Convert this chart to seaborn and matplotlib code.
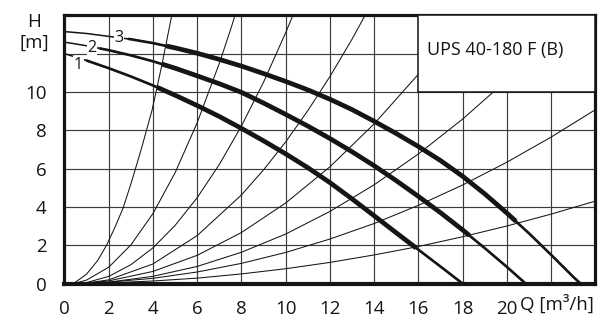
import numpy as np
import pandas as pd
import matplotlib
matplotlib.use("Agg")
import matplotlib.pyplot as plt
from matplotlib.patches import Rectangle
import seaborn as sns

# ---- pump characteristics (flow Q in m3/h, head H in m) for the three speeds
speed1_q = [0, 1, 2, 3, 4, 5, 6, 7, 8, 9, 10, 11, 12, 13, 14, 15, 16, 17, 18]
speed1_h = [12.0, 11.64, 11.24, 10.81, 10.34, 9.83, 9.29, 8.72, 8.10, 7.45,
            6.77, 6.05, 5.27, 4.42, 3.54, 2.65, 1.77, 0.89, 0.0]

speed2_q = [0, 1, 2, 3, 4, 5, 6, 7, 8, 9, 10, 11, 12, 13, 14, 15, 16, 17, 18,
            19, 20, 20.85]
speed2_h = [12.6, 12.41, 12.18, 11.91, 11.6, 11.24, 10.84, 10.43, 9.98, 9.42,
            8.83, 8.22, 7.57, 6.88, 6.15, 5.37, 4.55, 3.70, 2.80, 1.85, 0.87, 0.0]

speed3_q = [0, 1, 2, 3, 4, 5, 6, 7, 8, 9, 10, 11, 12, 13, 14, 15, 16, 17, 18,
            19, 20, 21, 22, 23, 23.33]
speed3_h = [13.15, 13.05, 12.9, 12.75, 12.55, 12.3, 12.02, 11.7, 11.35, 10.96,
            10.55, 10.11, 9.62, 9.08, 8.47, 7.83, 7.15, 6.42, 5.6, 4.68, 3.68,
            2.62, 1.5, 0.35, 0.0]

speed_labels = ["1", "2", "3"]

# ---- system (pipe) characteristics
sys_a_q = [0.4, 1.0, 1.5, 1.9, 2.3, 2.65, 3.0, 3.45, 3.96, 4.4, 4.85, 5.0]
sys_a_h = [0.0, 0.5, 1.21, 2.0, 2.99, 3.95, 5.2, 6.93, 9.06, 11.4, 14.0, 14.83]
sys_b_q = [0.4, 1, 2, 3, 4, 5, 6, 7, 7.5, 8]
sys_b_h = [0.0, 0.19, 0.86, 2.02, 3.66, 5.79, 8.4, 11.5, 13.23, 15.08]
sys_c_q = [0.4, 1, 2, 3, 4, 5, 6, 7, 8, 9, 10, 10.5]
sys_c_h = [0.0, 0.06, 0.38, 0.99, 1.87, 3.04, 4.49, 6.22, 8.23, 10.52, 13.1, 14.49]
sys_d_q = [0.4, 1, 2, 4, 6, 8, 9, 10, 11, 12, 13, 14]
sys_d_h = [0.0, 0.03, 0.2, 1.03, 2.51, 4.63, 5.94, 7.4, 9.03, 10.81, 12.76, 14.87]
sys_e_q = [0.4, 1, 2, 4, 6, 8, 10, 12, 14, 16, 17]
sys_e_h = [0.0, 0.03, 0.145, 0.64, 1.48, 2.67, 4.21, 6.1, 8.34, 10.93, 12.35]
sys_f_q = [0.4, 2, 4, 6, 8, 10, 12, 14, 16, 18, 20, 21]
sys_f_h = [0.0, 0.08, 0.385, 0.9, 1.64, 2.59, 3.77, 5.16, 6.77, 8.59, 10.63, 11.73]
sys_g_q = [0.4, 2, 4, 6, 8, 10, 12, 14, 16, 18, 20, 22, 24]
sys_g_h = [0.0, 0.08, 0.28, 0.61, 1.06, 1.63, 2.33, 3.14, 4.09, 5.15, 6.34, 7.65, 9.08]
sys_h_q = [0.4, 2, 4, 6, 8, 10, 12, 14, 16, 18, 20, 22, 24]
sys_h_h = [0.0, 0.04, 0.14, 0.29, 0.51, 0.78, 1.11, 1.5, 1.94, 2.45, 3.01, 3.63, 4.31]

x_tick_values = list(range(0, 25, 2))
x_tick_labels = ["0", "2", "4", "6", "8", "10", "12", "14", "16", "18", "20", "", ""]
y_tick_values = list(range(0, 15, 2))
y_tick_labels = ["0", "2", "4", "6", "8", "10", "", ""]

model_name = "UPS 40-180 F (B)"

# ---- styling
sns.set_style("white")
plt.rcParams["font.family"] = ["Open Sans", "DejaVu Sans"]
INK = "#151515"
GRID = "#3c3c3c"
FS = 13.5

fig = plt.figure(figsize=(6.01, 3.22), dpi=100)
ax = fig.add_axes([0.1073, 0.119, 0.8835, 0.8335])
ax.set_xlim(0, 24)
ax.set_ylim(0, 14)

# grid
for xv in range(2, 24, 2):
    ax.axvline(xv, color=GRID, lw=0.85, zorder=0.5)
for yv in range(2, 14, 2):
    ax.axhline(yv, color=GRID, lw=0.85, zorder=0.5)

# system curves
system_curves = [(sys_a_q, sys_a_h), (sys_b_q, sys_b_h), (sys_c_q, sys_c_h),
                 (sys_d_q, sys_d_h), (sys_e_q, sys_e_h), (sys_f_q, sys_f_h),
                 (sys_g_q, sys_g_h), (sys_h_q, sys_h_h)]
for q, h in system_curves:
    df = pd.DataFrame({"Q": q, "H": h})
    sns.lineplot(data=df, x="Q", y="H", ax=ax, color=INK, lw=0.75,
                 sort=False, estimator=None, zorder=2)

# pump curves: thin start, medium body, heavy working range
pump_curves = [(speed1_q, speed1_h), (speed2_q, speed2_h), (speed3_q, speed3_h)]
medium_from = [1.0, 1.6, 2.9]
heavy_range = [(4.2, 15.9), (4.4, 18.3), (4.6, 20.4)]
label_pos = [(0.62, 11.42), (1.24, 12.3), (2.47, 12.8)]


def piece(q, h, lo, hi):
    q = np.asarray(q, float)
    h = np.asarray(h, float)
    inner = (q > lo) & (q < hi)
    qs = np.concatenate([[lo], q[inner], [hi]])
    hs = np.concatenate([[np.interp(lo, q, h)], h[inner], [np.interp(hi, q, h)]])
    return pd.DataFrame({"Q": qs, "H": hs})


for (q, h), m0, (t0, t1), lab, (lx, ly) in zip(pump_curves, medium_from,
                                               heavy_range, speed_labels, label_pos):
    sns.lineplot(data=pd.DataFrame({"Q": q, "H": h}), x="Q", y="H", ax=ax,
                 color=INK, lw=1.1, sort=False, estimator=None, zorder=4,
                 solid_joinstyle="round")
    sns.lineplot(data=piece(q, h, m0, q[-1]), x="Q", y="H", ax=ax,
                 color=INK, lw=1.9, sort=False, estimator=None, zorder=4,
                 solid_joinstyle="round")
    sns.lineplot(data=piece(q, h, t0, t1), x="Q", y="H", ax=ax,
                 color=INK, lw=3.4, sort=False, estimator=None, zorder=4,
                 solid_capstyle="butt", solid_joinstyle="round")
    ax.text(lx, ly, lab, fontsize=11.5, ha="center", va="center", color=INK,
            zorder=6, bbox=dict(facecolor="white", edgecolor="none", pad=0.6))

# model name box in the upper right corner
ax.add_patch(Rectangle((16, 10), 8, 4, facecolor="white", edgecolor=INK,
                       lw=1.1, zorder=5))
ax.text(16.4, 12.2, model_name, fontsize=13, ha="left", va="center",
        color=INK, zorder=6)

# axes frame and ticks
for side, w in (("left", 2.3), ("bottom", 3.0), ("top", 2.3), ("right", 2.3)):
    ax.spines[side].set_visible(True)
    ax.spines[side].set_linewidth(w)
    ax.spines[side].set_color(INK)

ax.set_xticks(x_tick_values)
ax.set_xticklabels(x_tick_labels)
ax.set_xticks(range(1, 24, 2), minor=True)
ax.set_yticks(y_tick_values)
ax.set_yticklabels(y_tick_labels)
ax.set_yticks(range(1, 14, 2), minor=True)
ax.tick_params(which="major", direction="out", length=10, width=2.2,
               color=INK, labelsize=FS, labelcolor=INK)
ax.tick_params(axis="x", which="major", pad=1.5)
ax.tick_params(axis="y", which="major", pad=3)
ax.tick_params(which="minor", direction="out", length=5, width=1.3, color=INK)
ax.tick_params(top=False, right=False, which="both")
ax.set_xlabel("")
ax.set_ylabel("")

# axis titles
fig.text(0.057, 0.932, "H", fontsize=FS, ha="center", va="center", color=INK)
fig.text(0.057, 0.866, "[m]", fontsize=FS, ha="center", va="center", color=INK)
fig.text(0.866, 0.056, "Q [m³/h]", fontsize=FS, ha="left", va="center", color=INK)

fig.savefig("out.png", dpi=100, facecolor="white")
